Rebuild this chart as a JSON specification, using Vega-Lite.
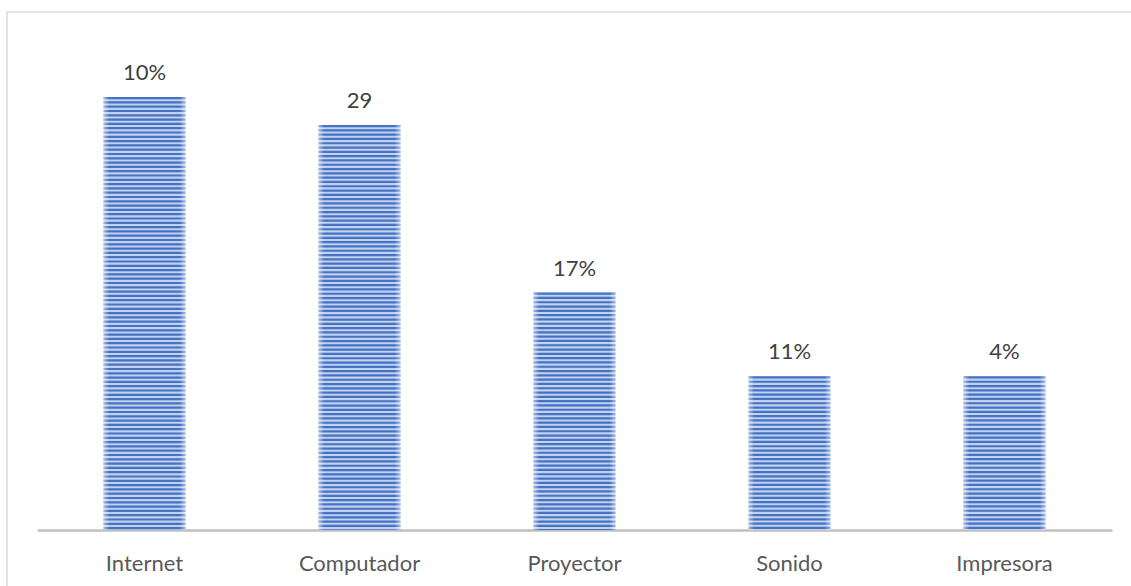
{
  "$schema": "https://vega.github.io/schema/vega-lite/v6.json",
  "autosize": {"type": "none"},
  "padding": {"left": 7, "top": 12, "right": 0, "bottom": 0},
  "width": 1140,
  "height": 600,
  "background": "white",
  "config": {
    "view": {"stroke": "#d9d9d9", "strokeWidth": 1.5},
    "font": "Lato"
  },
  "data": {
    "values": [
      {"categoria": "Internet", "valor": 31, "etiqueta": "10%"},
      {"categoria": "Computador", "valor": 29, "etiqueta": "29"},
      {"categoria": "Proyector", "valor": 17, "etiqueta": "17%"},
      {"categoria": "Sonido", "valor": 11, "etiqueta": "11%"},
      {"categoria": "Impresora", "valor": 11, "etiqueta": "4%"}
    ]
  },
  "encoding": {
    "x": {
      "field": "categoria",
      "type": "nominal",
      "sort": null,
      "scale": {"range": [30, 1105], "paddingInner": 0.62, "paddingOuter": 0.31},
      "axis": {
        "title": null,
        "offset": -82,
        "labelAngle": 0,
        "labelFont": "Lato",
        "labelFontSize": 22,
        "labelColor": "#595959",
        "labelBaseline": "alphabetic",
        "labelPadding": 40,
        "ticks": false,
        "tickSize": 0,
        "domain": true,
        "domainColor": "#bfbfbf",
        "domainWidth": 2.5,
        "grid": false
      }
    },
    "y": {
      "field": "valor",
      "type": "quantitative",
      "scale": {"domain": [0, 31], "range": [518, 85], "nice": false, "zero": true},
      "axis": null
    }
  },
  "layer": [
    {
      "mark": {"type": "bar", "fill": "#c2d1ee", "stroke": null}
    },
    {
      "mark": {"type": "rule", "color": "#4472c4", "strokeWidth": 81.7, "strokeCap": "butt", "strokeDash": [2.2, 2.1]},
      "encoding": {"y2": {"datum": 0}}
    },
    {
      "mark": {
        "type": "bar",
        "fill": {
          "x1": 0, "y1": 0, "x2": 1, "y2": 0,
          "gradient": "linear",
          "stops": [
            {"offset": 0, "color": "rgba(255,255,255,0.5)"},
            {"offset": 0.07, "color": "rgba(255,255,255,0)"},
            {"offset": 0.93, "color": "rgba(255,255,255,0)"},
            {"offset": 1, "color": "rgba(255,255,255,0.5)"}
          ]
        }
      }
    },
    {
      "mark": {"type": "text", "font": "Lato", "fontSize": 22, "color": "#404040", "baseline": "alphabetic", "dy": -17},
      "encoding": {"text": {"field": "etiqueta"}}
    }
  ]
}
